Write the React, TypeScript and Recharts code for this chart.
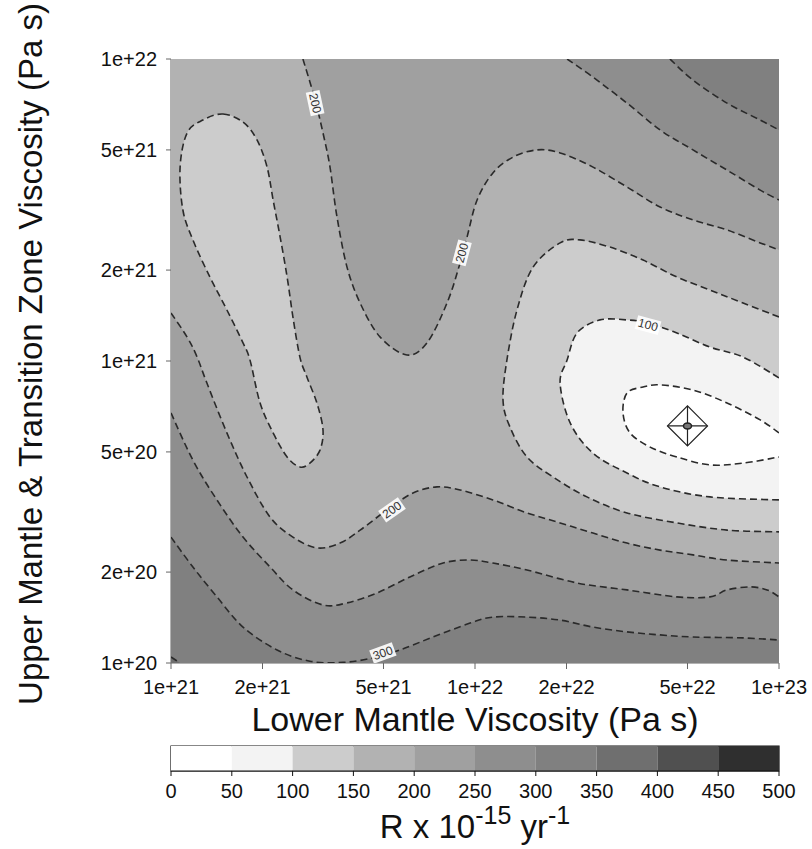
import React from 'react'
import { ComposedChart, Scatter, XAxis, YAxis, Label, BarChart, Bar, ReferenceArea } from 'recharts'

// all coordinates are log10(viscosity): [lower mantle, upper mantle & transition zone]
type Pt = [number, number]
type Run = { pts: Pt[]; closed?: boolean }

const xTicks = [1e21, 2e21, 5e21, 1e22, 2e22, 5e22, 1e23]
const yTicks = [1e20, 2e20, 5e20, 1e21, 2e21, 5e21, 1e22]
const xDomain = [21, 23]
const yDomain = [20, 22]

const levels = [0, 50, 100, 150, 200, 250, 300, 350, 400, 450, 500]
const levelColors = ['#ffffff', '#f3f3f3', '#cccccc', '#b2b2b2', '#a0a0a0', '#8e8e8e', '#808080', '#6f6f6f', '#505050', '#2f2f2f']

// contour lines
const c200Upper: Pt[] = [
  [21.434, 22.0], [21.474, 21.864], [21.5, 21.755], [21.523, 21.642], [21.546, 21.477],
  [21.579, 21.311], [21.622, 21.192], [21.688, 21.079], [21.776, 21.02], [21.842, 21.06],
  [21.908, 21.192], [21.951, 21.325], [21.974, 21.411], [22.007, 21.533], [22.059, 21.623],
  [22.125, 21.675], [22.204, 21.699], [22.28, 21.689], [22.388, 21.642], [22.5, 21.576],
  [22.609, 21.51], [22.717, 21.467], [22.829, 21.434], [22.938, 21.391], [23.0, 21.368],
]
const c250Upper: Pt[] = [
  [22.303, 22.0], [22.388, 21.94], [22.5, 21.854], [22.609, 21.765], [22.717, 21.699],
  [22.829, 21.632], [22.938, 21.566], [23.0, 21.533],
]
const c300Upper: Pt[] = [
  [22.641, 22.0], [22.717, 21.93], [22.829, 21.854], [22.938, 21.798], [23.0, 21.765],
]
const c150Right: Pt[] = [
  [23.0, 21.146], [22.882, 21.192], [22.773, 21.235], [22.664, 21.278], [22.553, 21.334],
  [22.444, 21.377], [22.345, 21.401], [22.28, 21.391], [22.191, 21.311], [22.138, 21.169],
  [22.105, 21.003], [22.092, 20.871], [22.115, 20.781], [22.171, 20.682], [22.257, 20.616],
  [22.368, 20.55], [22.5, 20.497], [22.664, 20.464], [22.829, 20.44], [23.0, 20.434],
]
const c100: Pt[] = [
  [23.0, 20.944], [22.882, 21.013], [22.773, 21.046], [22.664, 21.093], [22.566, 21.126],
  [22.5, 21.136], [22.411, 21.136], [22.336, 21.093], [22.303, 21.003], [22.28, 20.927],
  [22.313, 20.795], [22.388, 20.695], [22.5, 20.629], [22.609, 20.583], [22.773, 20.55],
  [23.0, 20.54],
]
const c50: Pt[] = [
  [23.0, 20.762], [22.938, 20.805], [22.829, 20.861], [22.717, 20.904], [22.609, 20.921],
  [22.553, 20.914], [22.5, 20.894], [22.487, 20.828], [22.51, 20.762], [22.576, 20.715],
  [22.664, 20.682], [22.773, 20.656], [22.882, 20.662], [23.0, 20.682],
]
const c150Blob: Pt[] = [
  [21.171, 21.818], [21.237, 21.791], [21.283, 21.732], [21.316, 21.642], [21.336, 21.533],
  [21.359, 21.411], [21.382, 21.278], [21.401, 21.146], [21.424, 21.013], [21.447, 20.947],
  [21.48, 20.861], [21.5, 20.772], [21.49, 20.705], [21.457, 20.662], [21.424, 20.649],
  [21.382, 20.682], [21.336, 20.762], [21.293, 20.861], [21.26, 21.003], [21.237, 21.06],
  [21.184, 21.169], [21.128, 21.278], [21.072, 21.401], [21.039, 21.5], [21.03, 21.642],
  [21.053, 21.755], [21.105, 21.798],
]
const c200Lower: Pt[] = [
  [21.0, 21.159], [21.053, 21.079], [21.086, 21.013], [21.118, 20.927], [21.184, 20.762],
  [21.25, 20.616], [21.326, 20.483], [21.401, 20.417], [21.48, 20.381], [21.556, 20.397],
  [21.622, 20.44], [21.711, 20.507], [21.796, 20.563], [21.875, 20.583], [21.951, 20.573],
  [22.059, 20.54], [22.171, 20.497], [22.28, 20.464], [22.388, 20.43], [22.5, 20.397],
  [22.609, 20.374], [22.717, 20.358], [22.829, 20.341], [23.0, 20.331],
]
const c250Lower: Pt[] = [
  [21.0, 20.828], [21.072, 20.672], [21.151, 20.54], [21.237, 20.417], [21.326, 20.318],
  [21.401, 20.242], [21.5, 20.192], [21.579, 20.199], [21.678, 20.232], [21.786, 20.285],
  [21.895, 20.331], [21.984, 20.341], [22.059, 20.331], [22.171, 20.308], [22.336, 20.265],
  [22.5, 20.242], [22.664, 20.219], [22.773, 20.219], [22.829, 20.242], [22.905, 20.252],
  [22.961, 20.242], [23.0, 20.219],
]
const c300Lower: Pt[] = [
  [21.0, 20.417], [21.072, 20.318], [21.151, 20.219], [21.237, 20.119], [21.349, 20.043],
  [21.457, 20.006], [21.566, 20.002], [21.665, 20.017], [21.753, 20.043], [21.862, 20.086],
  [21.984, 20.132], [22.059, 20.152], [22.171, 20.152], [22.28, 20.142], [22.388, 20.119],
  [22.5, 20.103], [22.609, 20.093], [22.717, 20.086], [22.882, 20.083], [23.0, 20.076],
]
const c350Corner: Pt[] = [[21.0, 20.02], [21.03, 20.0]]

const bestFit: Pt[] = [[22.699, 20.785]]

const contourLabels = [
  { x: 21.474, y: 21.854, text: '200' },
  { x: 21.957, y: 21.358, text: '200' },
  { x: 21.727, y: 20.507, text: '200' },
  { x: 21.697, y: 20.033, text: '300' },
  { x: 22.569, y: 21.119, text: '100' },
]
const labelAngles = [78, -75, -35, -20, 15]

const BL: Pt = [xDomain[0], yDomain[0]]
const BR: Pt = [xDomain[1], yDomain[0]]
const TR: Pt = [xDomain[1], yDomain[1]]
const TL: Pt = [xDomain[0], yDomain[1]]
const rev = (a: Pt[]) => [...a].reverse()

// painted from the outermost level inwards
const fillLayers: { band: number; runs: Run[] }[] = [
  { band: 6, runs: [{ pts: [BL] }, { pts: [BR] }, { pts: [TR] }, { pts: [TL] }] },
  { band: 7, runs: [{ pts: c350Corner }, { pts: [BL] }] },
  { band: 5, runs: [{ pts: c300Lower }, { pts: rev(c300Upper) }, { pts: [TL] }] },
  { band: 4, runs: [{ pts: c250Lower }, { pts: rev(c250Upper) }, { pts: [TL] }] },
  { band: 3, runs: [{ pts: c200Lower }, { pts: rev(c200Upper) }, { pts: [TL] }] },
  { band: 2, runs: [{ pts: c150Blob, closed: true }] },
  { band: 2, runs: [{ pts: c150Right }] },
  { band: 1, runs: [{ pts: c100 }] },
  { band: 0, runs: [{ pts: c50 }] },
]

const contourRuns: Run[] = [
  { pts: c350Corner }, { pts: c300Lower }, { pts: c300Upper }, { pts: c250Lower },
  { pts: c250Upper }, { pts: c200Lower }, { pts: c200Upper }, { pts: c150Right },
  { pts: c150Blob, closed: true }, { pts: c100 }, { pts: c50 },
]

type XY = { x: number; y: number }
const f1 = (n: number) => n.toFixed(1)

// catmull-rom through the pixel points the scatter hands us
const smooth = (s: XY[], closed: boolean, first: boolean) => {
  const n = s.length
  if (!n) return ''
  let d = `${first ? 'M' : 'L'}${f1(s[0].x)},${f1(s[0].y)}`
  const last = closed ? n : n - 1
  for (let i = 0; i < last; i++) {
    const p1 = s[i]
    const p2 = s[(i + 1) % n]
    const p0 = closed ? s[(i - 1 + n) % n] : i > 0 ? s[i - 1] : p1
    const p3 = closed ? s[(i + 2) % n] : i + 2 < n ? s[i + 2] : p2
    const c1x = p1.x + (p2.x - p0.x) / 6
    const c1y = p1.y + (p2.y - p0.y) / 6
    const c2x = p2.x - (p3.x - p1.x) / 6
    const c2y = p2.y - (p3.y - p1.y) / 6
    d += `C${f1(c1x)},${f1(c1y)} ${f1(c2x)},${f1(c2y)} ${f1(p2.x)},${f1(p2.y)}`
  }
  return d
}

const runsPath = (pts: XY[], runs: Run[]) => {
  let k = 0
  let d = ''
  runs.forEach((r, i) => {
    const seg = pts.slice(k, k + r.pts.length)
    k += r.pts.length
    d += smooth(seg, !!r.closed, i === 0)
  })
  return d
}

const toData = (pts: Pt[]) => pts.map(([x, y]) => ({ x, y }))
const noDot = () => <g />

const fillLine = (runs: Run[], color: string) => (props: any) => (
  <path d={runsPath(props.points || [], runs) + 'Z'} fill={color} stroke="none" />
)
const dashLine = (run: Run) => (props: any) => (
  <path
    d={runsPath(props.points || [], [run]) + (run.closed ? 'Z' : '')}
    fill="none"
    stroke="#2a2a2a"
    strokeWidth={1.6}
    strokeDasharray="7 4"
  />
)

const sciLabel = (v: number) => {
  const e = Math.floor(v + 1e-6)
  const m = Math.round(Math.pow(10, v - e))
  return `${m}e+${e}`
}

const LabelMark = (props: any) => {
  const { cx, cy, index, payload } = props
  return (
    <g transform={`translate(${cx},${cy}) rotate(${labelAngles[index] ?? 0})`}>
      <rect x={-12} y={-7} width={24} height={14} fill="#fff" opacity={0.9} />
      <text textAnchor="middle" dy={4} fontSize={12} fill="#333">
        {payload.text}
      </text>
    </g>
  )
}

const Marker = (props: any) => {
  const { cx, cy } = props
  const r = 20
  return (
    <g stroke="#222" strokeWidth={1.2} fill="none">
      <path d={`M${cx - r},${cy}L${cx},${cy - r}L${cx + r},${cy}L${cx},${cy + r}Z`} />
      <line x1={cx - r} y1={cy} x2={cx + r} y2={cy} />
      <line x1={cx} y1={cy - r} x2={cx} y2={cy + r} />
      <ellipse cx={cx} cy={cy} rx={4} ry={3} fill="#777" strokeWidth={1.5} />
    </g>
  )
}

const colorbarRow = [
  levelColors.reduce((row: any, _c, i) => {
    row[`b${i}`] = levels[i + 1] - levels[i]
    return row
  }, { name: 'R' }),
]

const tickStyle = { fontSize: 20, fill: '#111' }

export default function App() {
  return (
    <div
      style={{
        position: 'absolute',
        left: 0,
        top: 0,
        width: 812,
        height: 849,
        background: '#fff',
        fontFamily: '"Liberation Sans", Arial, Helvetica, sans-serif',
      }}
    >
      <div style={{ position: 'absolute', left: 0, top: 0 }}>
        <ComposedChart width={812} height={740} margin={{ top: 59, right: 33, bottom: 0, left: 0 }}>
          <XAxis
            dataKey="x"
            type="number"
            domain={xDomain}
            allowDataOverflow
            ticks={xTicks.map(Math.log10)}
            interval={0}
            tickFormatter={sciLabel}
            height={77}
            tickSize={6}
            tickMargin={11}
            tick={tickStyle}
            stroke="#666"
          >
            <Label
              content={(p: any) => {
                const vb = p.viewBox || { x: 171, y: 663, width: 608 }
                return (
                  <text x={vb.x + vb.width / 2} y={vb.y + 68} textAnchor="middle" fontSize={34} fill="#111">
                    Lower Mantle Viscosity (Pa s)
                  </text>
                )
              }}
            />
          </XAxis>
          <YAxis
            dataKey="y"
            type="number"
            domain={yDomain}
            allowDataOverflow
            ticks={yTicks.map(Math.log10)}
            interval={0}
            tickFormatter={sciLabel}
            width={171}
            tickSize={5}
            tickMargin={9}
            tick={tickStyle}
            stroke="#666"
          >
            <Label
              content={(p: any) => {
                const vb = p.viewBox || { x: 0, y: 59, height: 604 }
                const cx = 42
                const cy = vb.y + vb.height / 2 - 7
                return (
                  <text x={cx} y={cy} transform={`rotate(-90, ${cx}, ${cy})`} textAnchor="middle" fontSize={33} fill="#111">
                    Upper Mantle &amp; Transition Zone Viscosity (Pa s)
                  </text>
                )
              }}
            />
          </YAxis>
          {fillLayers.map((layer, i) => (
            <Scatter
              key={`fill-${i}`}
              data={toData(layer.runs.flatMap((r) => r.pts))}
              shape={noDot}
              line={fillLine(layer.runs, levelColors[layer.band])}
              isAnimationActive={false}
            />
          ))}
          {contourRuns.map((run, i) => (
            <Scatter
              key={`line-${i}`}
              data={toData(run.pts)}
              shape={noDot}
              line={dashLine(run)}
              isAnimationActive={false}
            />
          ))}
          <Scatter data={contourLabels} shape={LabelMark} isAnimationActive={false} />
          <Scatter data={toData(bestFit)} shape={Marker} isAnimationActive={false} />
        </ComposedChart>
      </div>
      <div style={{ position: 'absolute', left: 0, top: 740 }}>
        <BarChart
          width={812}
          height={109}
          layout="vertical"
          data={colorbarRow}
          margin={{ top: 6, right: 33, bottom: 0, left: 0 }}
          barCategoryGap={0}
        >
          <XAxis
            type="number"
            domain={[levels[0], levels[levels.length - 1]]}
            ticks={levels}
            interval={0}
            height={78}
            tickSize={5}
            tickMargin={8}
            tick={tickStyle}
            stroke="#111"
          >
            <Label
              content={(p: any) => {
                const vb = p.viewBox || { x: 171, y: 771, width: 608 }
                return (
                  <text x={vb.x + vb.width / 2} y={vb.y + 67} textAnchor="middle" fontSize={33} fill="#111">
                    R x 10
                    <tspan dy={-14} fontSize={25}>-15</tspan>
                    <tspan dy={14} fontSize={33}> yr</tspan>
                    <tspan dy={-14} fontSize={25}>-1</tspan>
                  </text>
                )
              }}
            />
          </XAxis>
          <YAxis type="category" dataKey="name" width={171} tick={false} tickLine={false} axisLine={false} />
          {levelColors.map((c, i) => (
            <Bar key={i} dataKey={`b${i}`} stackId="bar" fill={c} isAnimationActive={false} />
          ))}
          <ReferenceArea
            x1={levels[0]}
            x2={levels[levels.length - 1]}
            fill="none"
            fillOpacity={0}
            stroke="#111"
            strokeWidth={1.2}
            ifOverflow="visible"
          />
        </BarChart>
      </div>
    </div>
  )
}
